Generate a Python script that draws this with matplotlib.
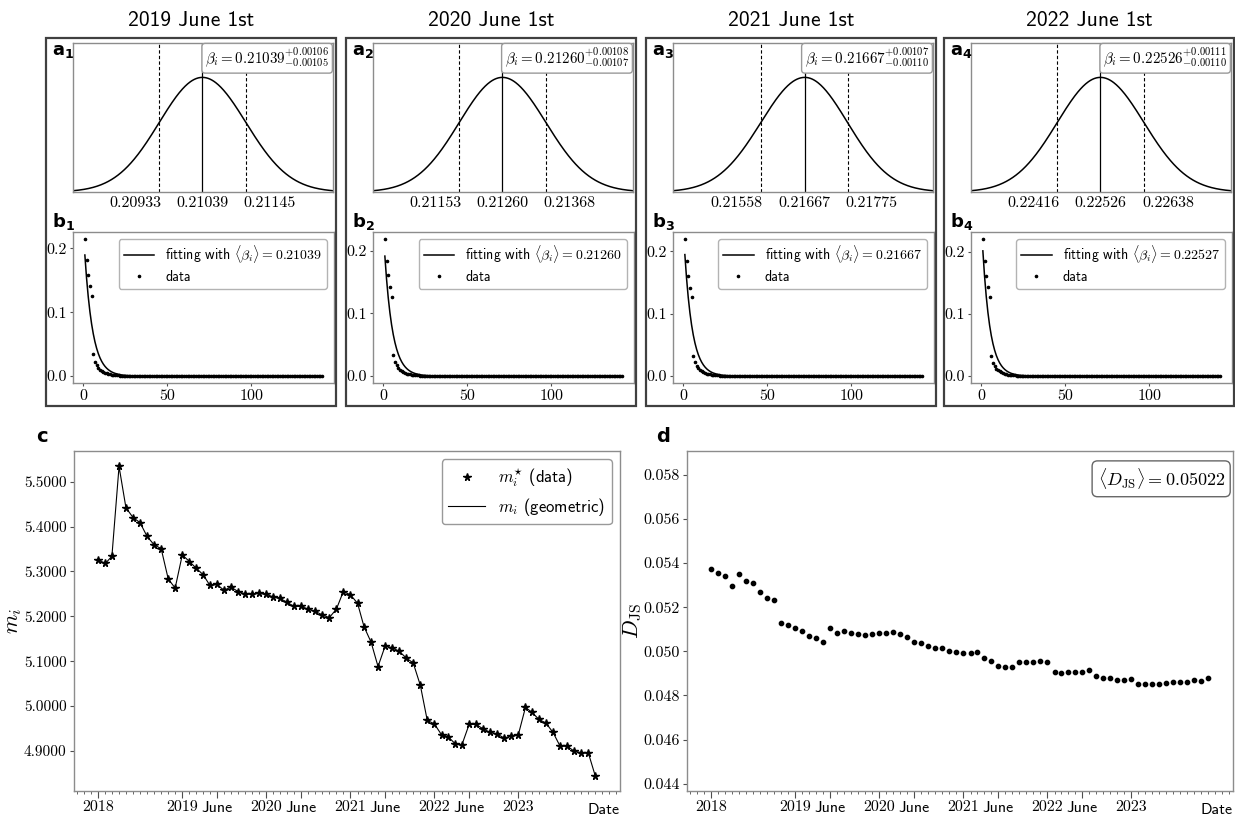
import numpy as np
import pandas as pd
import matplotlib
matplotlib.use('Agg')
import matplotlib.pyplot as plt
from matplotlib.patches import Rectangle
from matplotlib.ticker import FixedLocator, NullFormatter
import matplotlib.dates as mdates

plt.rcParams['font.family'] = ['cmss10', 'DejaVu Sans']
plt.rcParams['mathtext.fontset'] = 'cm'
plt.rcParams['axes.unicode_minus'] = False

SERIF = 'cmr10'
SPINE = '0.55'

# --- snapshots (top row) ---
titles = ['2019 June 1st', '2020 June 1st', '2021 June 1st', '2022 June 1st']
beta_mean = [0.21039, 0.21260, 0.21667, 0.22526]
beta_err_hi = [0.00106, 0.00108, 0.00107, 0.00111]
beta_err_lo = [0.00105, 0.00107, 0.00110, 0.00110]
beta_ticks = [
    [0.20933, 0.21039, 0.21145],
    [0.21153, 0.21260, 0.21368],
    [0.21558, 0.21667, 0.21775],
    [0.22416, 0.22526, 0.22638],
]
beta_fit = [0.21039, 0.21260, 0.21667, 0.22527]

# empirical distribution, first bins (the rest sit at ~0)
dist_head = [
    [0.215, 0.182, 0.159, 0.141, 0.126, 0.034, 0.022, 0.017, 0.013, 0.0100,
     0.0080, 0.0065, 0.0052, 0.0042, 0.0034, 0.0028, 0.0023, 0.0019, 0.0016,
     0.0013, 0.0011, 0.0009, 0.0008, 0.0007, 0.0006],
    [0.219, 0.184, 0.161, 0.142, 0.127, 0.034, 0.022, 0.017, 0.013, 0.0100,
     0.0080, 0.0065, 0.0052, 0.0042, 0.0034, 0.0028, 0.0023, 0.0019, 0.0016,
     0.0013, 0.0011, 0.0009, 0.0008, 0.0007, 0.0006],
    [0.220, 0.185, 0.161, 0.142, 0.127, 0.033, 0.022, 0.017, 0.013, 0.0100,
     0.0080, 0.0065, 0.0052, 0.0042, 0.0034, 0.0028, 0.0023, 0.0019, 0.0016,
     0.0013, 0.0011, 0.0009, 0.0008, 0.0007, 0.0006],
    [0.221, 0.186, 0.162, 0.143, 0.128, 0.032, 0.021, 0.016, 0.012, 0.0095,
     0.0076, 0.0062, 0.0050, 0.0040, 0.0032, 0.0026, 0.0021, 0.0017, 0.0014,
     0.0012, 0.0010, 0.0009, 0.0008, 0.0007, 0.0006],
]
dist_tail_level = 0.0004
n_bins = 142

# --- monthly series (bottom row) ---
months = pd.date_range('2018-01-01', periods=72, freq='MS')
m_vals = [
    5.325, 5.318, 5.334, 5.534, 5.442, 5.420, 5.409, 5.378, 5.359, 5.351, 5.283, 5.263,
    5.337, 5.322, 5.308, 5.293, 5.269, 5.271, 5.258, 5.265, 5.255, 5.250, 5.250, 5.251,
    5.249, 5.243, 5.240, 5.231, 5.222, 5.222, 5.216, 5.211, 5.203, 5.197, 5.216, 5.255,
    5.248, 5.229, 5.177, 5.142, 5.088, 5.134, 5.130, 5.122, 5.107, 5.096, 5.046, 4.968,
    4.960, 4.936, 4.932, 4.916, 4.914, 4.959, 4.959, 4.949, 4.941, 4.938, 4.928, 4.934,
    4.936, 4.997, 4.986, 4.970, 4.962, 4.941, 4.911, 4.911, 4.899, 4.896, 4.896, 4.845,
]
djs_vals = [
    0.05371, 0.05353, 0.05340, 0.05297, 0.05349, 0.05318, 0.05309, 0.05270, 0.05243, 0.05234, 0.05128, 0.05120,
    0.05107, 0.05091, 0.05068, 0.05062, 0.05044, 0.05107, 0.05081, 0.05091, 0.05085, 0.05078, 0.05075, 0.05080,
    0.05085, 0.05085, 0.05088, 0.05080, 0.05066, 0.05044, 0.05036, 0.05025, 0.05016, 0.05015, 0.05003, 0.04995,
    0.04994, 0.04994, 0.04995, 0.04971, 0.04956, 0.04935, 0.04931, 0.04929, 0.04953, 0.04952, 0.04952, 0.04958,
    0.04952, 0.04908, 0.04902, 0.04908, 0.04906, 0.04906, 0.04914, 0.04890, 0.04879, 0.04878, 0.04870, 0.04872,
    0.04873, 0.04852, 0.04852, 0.04852, 0.04854, 0.04858, 0.04861, 0.04861, 0.04861, 0.04870, 0.04867, 0.04878,
]
djs_mean_label = '0.05022'

date_ticks = ['2018-01-01', '2019-01-01', '2019-06-01', '2020-01-01', '2020-06-01',
              '2021-01-01', '2021-06-01', '2022-01-01', '2022-06-01', '2023-01-01']
date_labels = ['2018', '2019', 'June', '2020', 'June', '2021', 'June', '2022', 'June', '2023']

W, H = 1235, 815
fig = plt.figure(figsize=(W / 100, H / 100), dpi=100)


def px_axes(l, t, r, b):
    return fig.add_axes([l / W, 1 - b / H, (r - l) / W, (b - t) / H])


def style_axes(ax):
    for s in ax.spines.values():
        s.set_color(SPINE)
        s.set_linewidth(1.0)
    ax.tick_params(colors='0.3', labelcolor='black', width=0.8)


def serif_ticks(ax, size=10.5):
    for lab in ax.get_xticklabels() + ax.get_yticklabels():
        lab.set_fontfamily(SERIF)
        lab.set_fontsize(size)


frame_left = [46, 346, 646, 944]
frame_w = 290
for i in range(4):
    fl = frame_left[i]
    fig.add_artist(Rectangle((fl / W, 1 - 406 / H), frame_w / W, (406 - 38) / H,
                             transform=fig.transFigure, fill=False,
                             ec='0.25', lw=1.6))
    fig.text((fl + frame_w / 2) / W, 1 - 20 / H, titles[i], ha='center',
             va='center', fontsize=15.5)

    # posterior of beta
    ax = px_axes(fl + 27, 43, fl + 287, 192)
    style_axes(ax)
    mu, sl, sh = beta_mean[i], beta_err_lo[i], beta_err_hi[i]
    xs = np.linspace(mu - 3 * sl, mu + 3 * sh, 400)
    sig = np.where(xs < mu, sl, sh)
    ax.plot(xs, np.exp(-0.5 * ((xs - mu) / sig) ** 2), color='black', lw=1.1)
    t_lo, t_mid, t_hi = beta_ticks[i]
    ax.axvline(t_mid, color='black', lw=0.9)
    ax.axvline(t_lo, color='black', lw=0.8, ls='--', dashes=(3, 2))
    ax.axvline(t_hi, color='black', lw=0.8, ls='--', dashes=(3, 2))
    ax.set_xlim(mu - 3 * sl, mu + 3 * sh)
    ax.set_ylim(0, 1.3)
    ax.set_yticks([])
    # labels are spread out beyond the 1-sigma lines so they do not collide
    ax.set_xticks([mu - 1.55 * sl, mu, mu + 1.55 * sh])
    ax.set_xticklabels(['%.5f' % v for v in beta_ticks[i]])
    ax.tick_params(axis='x', length=0, pad=3)
    serif_ticks(ax, 11.5)
    ax.text(0.985, 0.975,
            r'$\beta_i = %.5f^{+%.5f}_{-%.5f}$' % (mu, sh, sl),
            transform=ax.transAxes, ha='right', va='top', fontsize=10.8,
            bbox=dict(boxstyle='round,pad=0.22', fc='white', ec='0.6', lw=1.0))
    fig.text((fl + 6) / W, 1 - 52 / H, r'$\mathbf{a}_\mathbf{%d}$' % (i + 1),
             fontsize=13, va='center', ha='left', math_fontfamily='dejavusans')

    # degree distribution with geometric fit
    ax = px_axes(fl + 27, 232, fl + 288, 383)
    style_axes(ax)
    k = np.arange(1, n_bins + 1)
    head = dist_head[i]
    dist = np.array(head + [dist_tail_level] * (n_bins - len(head)))
    b = beta_fit[i]
    fit = (1 - np.exp(-b)) * np.exp(-b * (k - 1))
    ax.plot(k, fit, color='black', lw=1.1,
            label=r'fitting with $\langle\beta_i\rangle = %.5f$' % b)
    ax.plot(k, dist, ls='none', marker='.', ms=3.2, color='black', label='data')
    ax.set_xticks([0, 50, 100])
    ax.set_yticks([0.0, 0.1, 0.2])
    ax.set_yticklabels(['0.0', '0.1', '0.2'])
    ax.tick_params(length=2.5, pad=2)
    serif_ticks(ax, 11.5)
    ax.legend(loc='upper right', fontsize=10, numpoints=1, handlelength=2.2,
              framealpha=1, edgecolor='0.7', fancybox=True,
              borderaxespad=0.5, borderpad=0.35, labelspacing=0.35)
    fig.text((fl + 6) / W, 1 - 222 / H, r'$\mathbf{b}_\mathbf{%d}$' % (i + 1),
             fontsize=13, va='center', ha='left', math_fontfamily='dejavusans')


def date_axis(ax, ysize=11.5):
    ax.xaxis.set_major_locator(FixedLocator(mdates.date2num(pd.to_datetime(date_ticks))))
    ax.set_xticklabels(date_labels)
    ax.xaxis.set_minor_locator(mdates.MonthLocator())
    ax.xaxis.set_minor_formatter(NullFormatter())
    ax.tick_params(axis='x', which='major', length=5, pad=2)
    ax.tick_params(axis='x', which='minor', length=2.5, color='0.3')
    ax.tick_params(axis='y', length=3, pad=2)
    for lab in ax.get_xticklabels():
        lab.set_fontsize(11.5)
        lab.set_fontfamily('cmss10' if lab.get_text() == 'June' else SERIF)
    for lab in ax.get_yticklabels():
        lab.set_fontfamily(SERIF)
        lab.set_fontsize(ysize)
    ax.set_xlabel('Date', loc='right', fontsize=11.5)
    ax.xaxis.set_label_coords(1.0, -0.035)


# panel c
ax = px_axes(73.5, 451, 620, 791)
style_axes(ax)
ax.plot(months, m_vals, color='black', lw=0.8, label=r'$m_i$ (geometric)')
ax.plot(months, m_vals, ls='none', marker='*', ms=5.5, color='black',
        label=r'$m_i^{\star}$ (data)')
ax.set_yticks([4.9, 5.0, 5.1, 5.2, 5.3, 5.4, 5.5])
ax.set_yticklabels(['%.4f' % v for v in [4.9, 5.0, 5.1, 5.2, 5.3, 5.4, 5.5]])
date_axis(ax, ysize=11)
ax.set_ylabel(r'$m_i$', fontsize=16, labelpad=0)
h, l = ax.get_legend_handles_labels()
ax.legend(h[::-1], l[::-1], loc='upper right', fontsize=12, numpoints=1,
          handlelength=2.2, framealpha=1, edgecolor='0.6', fancybox=True,
          borderaxespad=0.5, borderpad=0.4, labelspacing=0.4)
fig.text(42 / W, 1 - 437 / H, r'$\mathbf{c}$', fontsize=14, va='center',
         ha='center', math_fontfamily='dejavusans')

# panel d
ax = px_axes(686.5, 451, 1233, 791)
style_axes(ax)
ax.plot(months, djs_vals, ls='none', marker='o', ms=3.1, color='black')
ax.set_ylim(min(djs_vals) * 0.9, max(djs_vals) * 1.1)
yt = [0.044, 0.046, 0.048, 0.050, 0.052, 0.054, 0.056, 0.058]
ax.set_yticks(yt)
ax.set_yticklabels(['%.3f' % v for v in yt])
date_axis(ax)
ax.set_ylabel(r'$D_{\rm JS}$', fontsize=16, labelpad=-1)
ax.text(0.985, 0.955, r'$\langle D_{\rm JS}\rangle = %s$' % djs_mean_label,
        transform=ax.transAxes, ha='right', va='top', fontsize=13,
        bbox=dict(boxstyle='round,pad=0.3', fc='white', ec='0.4', lw=1.0))
fig.text(663 / W, 1 - 437 / H, r'$\mathbf{d}$', fontsize=14, va='center',
         ha='center', math_fontfamily='dejavusans')

fig.savefig('out.png', dpi=100)
